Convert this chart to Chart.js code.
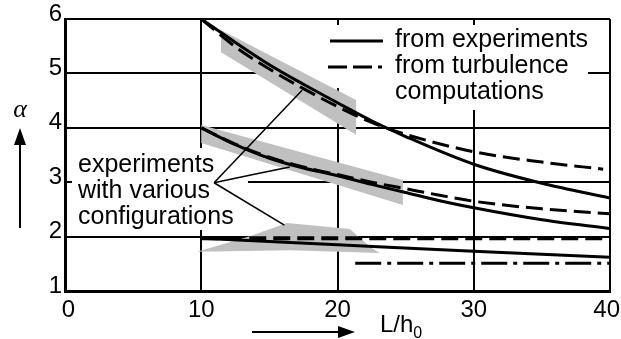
<!DOCTYPE html>
<html>
<head>
<meta charset="utf-8">
<script src="https://cdn.jsdelivr.net/npm/chart.js@4.4.1/dist/chart.umd.min.js"></script>
<style>
  html, body { margin: 0; padding: 0; background: #fff; }
  #wrap { width: 621px; height: 339px; }
</style>
</head>
<body>
<div id="wrap"><canvas id="myChart" width="621" height="339"></canvas></div>
<script>
// axis ticks
var xTicks = [0, 10, 20, 30, 40];
var yTicks = [1, 2, 3, 4, 5, 6];

// upper pair of curves
var expUpperX = [10, 12.5, 15, 17.5, 20, 22.5, 25, 30, 35, 40];
var expUpperY = [6.0, 5.57, 5.16, 4.8, 4.46, 4.13, 3.84, 3.33, 2.98, 2.71];
var turbUpperX = [10, 12.5, 15, 17.5, 20, 22.5, 25, 30, 35, 39.5];
var turbUpperY = [6.0, 5.49, 5.08, 4.72, 4.39, 4.1, 3.88, 3.56, 3.37, 3.24];

// middle pair
var expMidX = [10, 12.5, 15, 17.5, 20, 22.5, 25, 27.5, 30, 35, 40];
var expMidY = [4.0, 3.69, 3.44, 3.26, 3.12, 2.96, 2.81, 2.66, 2.53, 2.31, 2.15];
var turbMidX = [10, 12.5, 15, 17.5, 20, 22.5, 25, 27.5, 30, 35, 40];
var turbMidY = [4.0, 3.7, 3.46, 3.28, 3.14, 3.0, 2.88, 2.76, 2.65, 2.51, 2.42];

// lower curves
var expLowX = [10, 20, 30, 40];
var expLowY = [1.97, 1.85, 1.73, 1.62];
var turbLowX = [10, 40];
var turbLowY = [1.97, 1.97];
var dashDotX = [21.3, 40];
var dashDotY = [1.51, 1.51];

// grey scatter bands (outline points)
var band1X = [11.45, 21.36, 21.36, 11.45];
var band1Y = [5.8, 4.51, 3.87, 5.39];
var band2X = [10, 24.8, 24.8, 10];
var band2Y = [4.05, 3.04, 2.58, 3.72];
var band3X = [9.7, 13.5, 16.3, 20.9, 22.4, 23.1, 16.5];
var band3Y = [1.72, 2.0, 2.25, 2.14, 1.81, 1.7, 1.75];

// pointer lines from the note to the bands
var leaderStart = [10.94, 2.99];
var leaderEndX = [17.4, 16.5, 16.1];
var leaderEndY = [4.69, 3.28, 2.21];

var legendLabels = ["from experiments", "from turbulence", "computations"];
var noteLines = ["experiments", "with various", "configurations"];

function pts(xs, ys) {
  var out = [];
  for (var i = 0; i < xs.length; i++) out.push({ x: xs[i], y: ys[i] });
  return out;
}

function curve(xs, ys, dash, w) {
  return {
    data: pts(xs, ys),
    borderColor: "#000",
    borderWidth: w || 3,
    borderDash: dash || [],
    pointRadius: 0,
    fill: false,
    cubicInterpolationMode: "monotone",
    order: 1
  };
}

function band(xs, ys) {
  return {
    data: pts(xs, ys),
    borderWidth: 0,
    borderColor: "rgba(0,0,0,0)",
    backgroundColor: "rgb(192,192,192)",
    pointRadius: 0,
    fill: "shape",
    tension: 0,
    order: 3
  };
}

var datasets = [
  curve(expUpperX, expUpperY),
  curve(turbUpperX, turbUpperY, [17, 7]),
  curve(expMidX, expMidY),
  curve(turbMidX, turbMidY, [17, 7]),
  curve(expLowX, expLowY),
  curve(turbLowX, turbLowY, [17, 7], 4),
  curve(dashDotX, dashDotY, [26, 6, 4, 6]),
  band(band1X, band1Y),
  band(band2X, band2Y),
  band(band3X, band3Y)
];
for (var k = 0; k < leaderEndX.length; k++) {
  var ld = curve([leaderStart[0], leaderEndX[k]], [leaderStart[1], leaderEndY[k]], [], 1.5);
  ld.order = 2;
  datasets.push(ld);
}

var SANS = "'Liberation Sans', Arial, sans-serif";

// white patches behind legend and note (hide the grid there)
var masks = {
  id: "masks",
  beforeDatasetsDraw: function(chart) {
    var c = chart.ctx;
    c.save();
    c.fillStyle = "#fff";
    c.beginPath();
    c.moveTo(258, 25); c.lineTo(588, 25); c.lineTo(588, 112);
    c.lineTo(474, 110); c.lineTo(338, 88); c.lineTo(258, 78);
    c.closePath();
    c.fill();
    c.fillRect(72, 148, 176, 82);
    c.restore();
  }
};

function arrowHead(c, x, y, dir) {
  c.beginPath();
  if (dir === "up") {
    c.moveTo(x, y); c.lineTo(x - 6, y + 17); c.lineTo(x + 6, y + 17);
  } else {
    c.moveTo(x, y); c.lineTo(x - 17, y - 6); c.lineTo(x - 17, y + 6);
  }
  c.closePath();
  c.fill();
}

var extras = {
  id: "extras",
  afterDraw: function(chart) {
    var c = chart.ctx;
    c.save();
    c.fillStyle = "#000";
    c.strokeStyle = "#000";

    // legend samples
    c.lineWidth = 3;
    c.beginPath(); c.moveTo(330, 41); c.lineTo(383, 41); c.stroke();
    c.setLineDash([19, 6]);
    c.beginPath(); c.moveTo(328, 67); c.lineTo(382, 67); c.stroke();
    c.setLineDash([]);

    c.font = "25px " + SANS;
    c.textBaseline = "alphabetic";
    c.textAlign = "left";
    for (var i = 0; i < legendLabels.length; i++) {
      c.fillText(legendLabels[i], 395, 47 + i * 26);
    }
    for (var j = 0; j < noteLines.length; j++) {
      c.fillText(noteLines[j], 78, 172 + j * 26);
    }

    // y axis arrow and alpha
    c.lineWidth = 2;
    c.beginPath(); c.moveTo(20, 228); c.lineTo(20, 140); c.stroke();
    arrowHead(c, 20, 128, "up");
    c.font = "italic 26px 'Liberation Serif', 'Times New Roman', serif";
    c.textAlign = "center";
    c.fillText("\u03b1", 20, 117);

    // x axis arrow and L/h0
    c.beginPath(); c.moveTo(252, 332); c.lineTo(343, 332); c.stroke();
    arrowHead(c, 355, 332, "right");
    c.textAlign = "left";
    c.font = "24px " + SANS;
    c.fillText("L/h", 380, 332);
    var w = c.measureText("L/h").width;
    c.font = "16px " + SANS;
    c.fillText("0", 380 + w, 338);
    c.restore();
  }
};

var ctx = document.getElementById("myChart").getContext("2d");
var chart = new Chart(ctx, {
  type: "line",
  data: { datasets: datasets },
  plugins: [masks, extras],
  options: {
    responsive: false,
    animation: false,
    events: [],
    layout: { padding: { left: 0, top: 19, right: 11, bottom: 0 } },
    plugins: { legend: { display: false }, tooltip: { enabled: false } },
    scales: {
      x: {
        type: "linear",
        min: 0,
        max: 40,
        afterBuildTicks: function(s) { s.ticks = xTicks.map(function(v) { return { value: v }; }); },
        afterFit: function(s) { s.height = 48; s.paddingLeft = 0; s.paddingRight = 0; },
        grid: { color: "#000", lineWidth: 2, drawTicks: false },
        border: { color: "#000", width: 3 },
        ticks: {
          autoSkip: false, maxRotation: 0, padding: 5, color: "#000",
          font: { family: SANS, size: 24 },
          // keep the last label inside the canvas, nudge the first one right
          callback: function(v) {
            if (v === 40) return "40 ";
            if (v === 0) return " 0";
            return String(v);
          }
        }
      },
      y: {
        type: "linear",
        min: 1,
        max: 6,
        afterBuildTicks: function(s) { s.ticks = yTicks.map(function(v) { return { value: v }; }); },
        afterFit: function(s) { s.width = 65; },
        grid: { color: "#000", lineWidth: 2, drawTicks: false },
        border: { color: "#000", width: 3 },
        ticks: {
          autoSkip: false, padding: 3, labelOffset: -5, color: "#000",
          font: { family: SANS, size: 24 }
        }
      }
    }
  }
});
</script>
</body>
</html>
